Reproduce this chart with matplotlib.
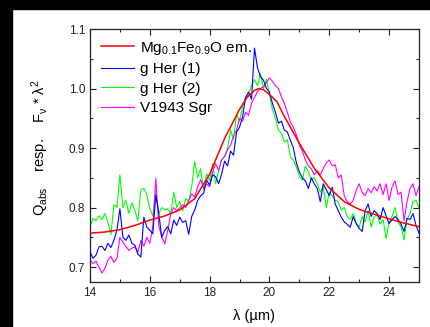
"""Q_abs of Mg0.1Fe0.9O compared with F_nu * lambda^2 spectra."""

import matplotlib
matplotlib.use("Agg")
import matplotlib.pyplot as plt
import numpy as np
from matplotlib.patches import Rectangle
from matplotlib.ticker import MultipleLocator

plt.rcParams["font.family"] = ["Liberation Sans", "DejaVu Sans"]
plt.rcParams["mathtext.default"] = "regular"

# model curve
model_wl = [14, 14.5, 15, 15.5, 16, 16.5, 17, 17.5, 18, 18.5, 19, 19.25, 19.5, 19.65,
            19.8, 20, 20.25, 20.5, 21, 21.5, 22, 22.5, 23, 23.5, 24, 24.5, 25]
model_q = [0.757, 0.759, 0.763, 0.770, 0.779, 0.786, 0.796, 0.815, 0.856, 0.916, 0.965,
           0.985, 0.997, 1.0, 0.998, 0.99, 0.978, 0.953, 0.908, 0.866, 0.833, 0.810,
           0.797, 0.789, 0.781, 0.774, 0.768]

# observed spectra, sampled every 0.1 micron from 14 to 25
wl = np.round(np.arange(14.0, 25.001, 0.1), 1)

g_her_1 = [
    0.726, 0.715, 0.720, 0.734, 0.735, 0.728, 0.740, 0.733, 0.745, 0.762,
    0.798, 0.750, 0.745, 0.754, 0.740, 0.737, 0.722, 0.717, 0.784, 0.767,
    0.762, 0.756, 0.821, 0.790, 0.750, 0.762, 0.768, 0.756, 0.779, 0.770,
    0.784, 0.775, 0.778, 0.755, 0.785, 0.796, 0.812, 0.820, 0.824, 0.846,
    0.838, 0.855, 0.852, 0.840, 0.856, 0.878, 0.870, 0.895, 0.888, 0.927,
    0.935, 0.952, 0.985, 0.994, 0.982, 1.068, 1.035, 1.020, 1.014, 1.000,
    0.994, 0.975, 0.960, 0.942, 0.945, 0.930, 0.927, 0.913, 0.900, 0.875,
    0.860, 0.850, 0.845, 0.832, 0.850, 0.840, 0.832, 0.810, 0.840, 0.830,
    0.820, 0.834, 0.806, 0.795, 0.784, 0.776, 0.772, 0.767, 0.785, 0.773,
    0.765, 0.760, 0.795, 0.806, 0.785, 0.795, 0.790, 0.780, 0.800, 0.786,
    0.773, 0.780, 0.785, 0.780, 0.772, 0.760, 0.782, 0.780, 0.790, 0.770,
    0.757,
]

g_her_2 = [
    0.768, 0.782, 0.778, 0.786, 0.780, 0.790, 0.775, 0.755, 0.805, 0.800,
    0.855, 0.800, 0.812, 0.790, 0.808, 0.795, 0.778, 0.830, 0.832, 0.822,
    0.798, 0.786, 0.828, 0.790, 0.800, 0.796, 0.798, 0.790, 0.826, 0.800,
    0.810, 0.795, 0.815, 0.810, 0.835, 0.877, 0.850, 0.865, 0.830, 0.857,
    0.845, 0.874, 0.840, 0.862, 0.880, 0.886, 0.900, 0.930, 0.915, 0.957,
    0.945, 0.970, 0.985, 0.990, 1.005, 1.015, 1.005, 1.025, 1.000, 1.016,
    0.990, 0.965, 0.950, 0.930, 0.925, 0.910, 0.914, 0.885, 0.880, 0.868,
    0.852, 0.846, 0.870, 0.860, 0.847, 0.850, 0.840, 0.826, 0.835, 0.800,
    0.826, 0.820, 0.812, 0.810, 0.796, 0.800, 0.785, 0.780, 0.790, 0.775,
    0.767, 0.785, 0.776, 0.795, 0.767, 0.785, 0.788, 0.772, 0.780, 0.748,
    0.775, 0.785, 0.800, 0.775, 0.768, 0.746, 0.780, 0.790, 0.810, 0.812,
    0.800,
]

v1943_sgr = [
    0.712, 0.706, 0.710, 0.700, 0.690, 0.698, 0.712, 0.718, 0.708, 0.715,
    0.750, 0.742, 0.735, 0.728, 0.732, 0.734, 0.725, 0.745, 0.735, 0.750,
    0.740, 0.768, 0.849, 0.770, 0.750, 0.739, 0.762, 0.790, 0.800, 0.795,
    0.800, 0.805, 0.800, 0.812, 0.823, 0.818, 0.835, 0.847, 0.832, 0.840,
    0.835, 0.860, 0.874, 0.862, 0.880, 0.886, 0.897, 0.905, 0.920, 0.930,
    0.950, 0.945, 0.960, 0.955, 0.975, 0.985, 0.995, 1.000, 1.003, 1.010,
    1.018, 1.012, 1.005, 1.000, 0.986, 0.975, 0.960, 0.944, 0.935, 0.922,
    0.905, 0.895, 0.880, 0.870, 0.865, 0.855, 0.862, 0.855, 0.866, 0.875,
    0.880, 0.870, 0.872, 0.850, 0.855, 0.820, 0.810, 0.806, 0.812, 0.829,
    0.840, 0.825, 0.820, 0.832, 0.825, 0.835, 0.828, 0.840, 0.822, 0.840,
    0.812, 0.835, 0.845, 0.822, 0.826, 0.778, 0.810, 0.832, 0.840, 0.820,
    0.835,
]

fig = plt.figure(figsize=(4.3, 3.27), dpi=100)
ax = fig.add_axes([0.2093, 0.1376, 0.7651, 0.7737])

# black frame strips of the original screenshot
fig.add_artist(Rectangle((0, 1 - 9 / 327), 1, 9 / 327, transform=fig.transFigure,
                         color="black", zorder=10))
fig.add_artist(Rectangle((0, 0), 12 / 430, 1, transform=fig.transFigure,
                         color="black", zorder=10))

ax.plot(wl, g_her_2, color="#00ff00", lw=0.8, label="g Her (2)", zorder=2)
ax.plot(wl, g_her_1, color="#0000ff", lw=0.8, label="g Her (1)", zorder=3)
ax.plot(wl, v1943_sgr, color="#ff00ff", lw=0.8, label="V1943 Sgr", zorder=2.5)
ax.plot(model_wl, model_q, color="#ff0000", lw=1.1,
        label="Mg$_{0.1}$Fe$_{0.9}$O em.", zorder=4)

ax.set_xlim(14, 25)
ax.set_ylim(0.675, 1.1)
ax.xaxis.set_major_locator(MultipleLocator(2))
ax.xaxis.set_minor_locator(MultipleLocator(1))
ax.yaxis.set_major_locator(MultipleLocator(0.1))
ax.yaxis.set_minor_locator(MultipleLocator(0.05))
ax.tick_params(which="both", direction="in", top=True, right=True,
               labelsize=8.5, width=0.8, colors="#222222")
ax.tick_params(which="major", length=4)
ax.tick_params(which="minor", length=2.5)
ax.set_yticks([0.7, 0.8, 0.9, 1.0, 1.1])
ax.set_yticklabels(["0.7", "0.8", "0.9", "1.0", "1.1"])
for s in ax.spines.values():
    s.set_linewidth(0.9)
    s.set_color("#222222")

ax.set_xlabel("λ (µm)", fontsize=10.5)
ax.set_ylabel("Q$_{abs}$    resp.    F$_{ν}$ * λ$^{2}$", fontsize=10.5)
ax.xaxis.set_label_coords(0.5, -0.105)
ax.yaxis.set_label_coords(-0.12, 0.53)

h, l = ax.get_legend_handles_labels()
order = [3, 1, 0, 2]
ax.legend([h[i] for i in order], [l[i] for i in order], loc="upper left",
          frameon=False, fontsize=11, handlelength=2.2, handletextpad=0.35,
          labelspacing=0.36, borderaxespad=0.3, bbox_to_anchor=(0.0, 1.0))

fig.savefig("out.png", dpi=100)
